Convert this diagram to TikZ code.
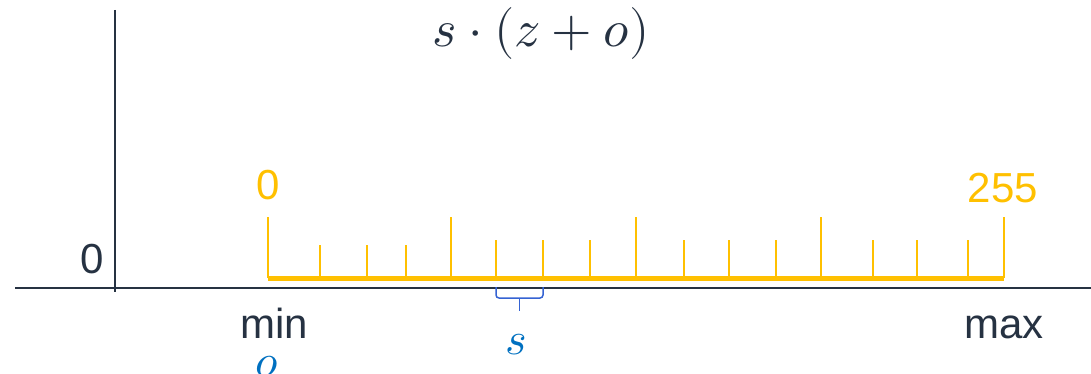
\documentclass[tikz,border=0pt]{standalone}
\usepackage{fontspec}
\usepackage{unicode-math}
\setmainfont{Liberation Sans}
\setmathfont{Latin Modern Math}
\definecolor{ink}{HTML}{263242}
\definecolor{gold}{HTML}{FFC000}
\definecolor{qblue}{HTML}{0070C0}
\definecolor{brblue}{HTML}{3563D3}
\begin{document}
\begin{tikzpicture}[x=1pt,y=-1pt,
  lbl/.style={anchor=base,inner sep=0pt,font=\fontsize{42}{48}\selectfont},
  tick/.style={draw=gold,line width=2pt},
  axis/.style={draw=ink,line width=1.8pt}]
\useasboundingbox (0,0) rectangle (1091,374);
% axes
\coordinate (xl) at (15,288); \coordinate (xr) at (1091,288);
\coordinate (yt) at (115,10); \coordinate (yb) at (115,292);
\draw[axis] (xl) -- (xr);
\draw[axis] (yt) -- (yb);
% ticks
\foreach \x/\t in {268/217,320/245,367/245,406/245,451/217,496/240,543/240,590/240,636/217,684/240,729/240,776/240,821/217,873/240,917/240,968/240,1004/217}
  \draw[tick] (\x,278) -- (\x,\t);
% baseline of scale
\coordinate (sl) at (268,278); \coordinate (sr) at (1004,278);
\draw[draw=gold,line width=5pt] (sl) -- (sr);
% brace
\coordinate (b1) at (496,287); \coordinate (b2) at (543,287); \coordinate (bt) at (519.5,311);
\draw[brblue,line width=1.5pt,rounded corners=3pt] (b1) -- (496,298) -- (543,298) -- (b2);
\draw[brblue,line width=1.5pt] (519.5,298) -- (bt);
% labels
\node[lbl,text=gold] (zero) at (268,200) {0};
\node[lbl,text=gold] (top) at (1003,202) {255};
\node[lbl,text=ink] (yzero) at (92,273) {0};
\node[lbl,text=ink] (min) at (274,338) {min};
\node[lbl,text=ink] (max) at (1004,338) {max};
\node[anchor=base,inner sep=0pt,text=qblue,font=\fontsize{46}{54}\selectfont] (s) at (516,354) {$s$};
\node[anchor=base,inner sep=0pt,text=qblue,font=\fontsize{46}{54}\selectfont] (o) at (267,376) {$o$};
\node[anchor=base,inner sep=0pt,text=ink,font=\fontsize{52}{60}\selectfont] (f) at (541,47) {$s\cdot(z+o)$};
\end{tikzpicture}
\end{document}
